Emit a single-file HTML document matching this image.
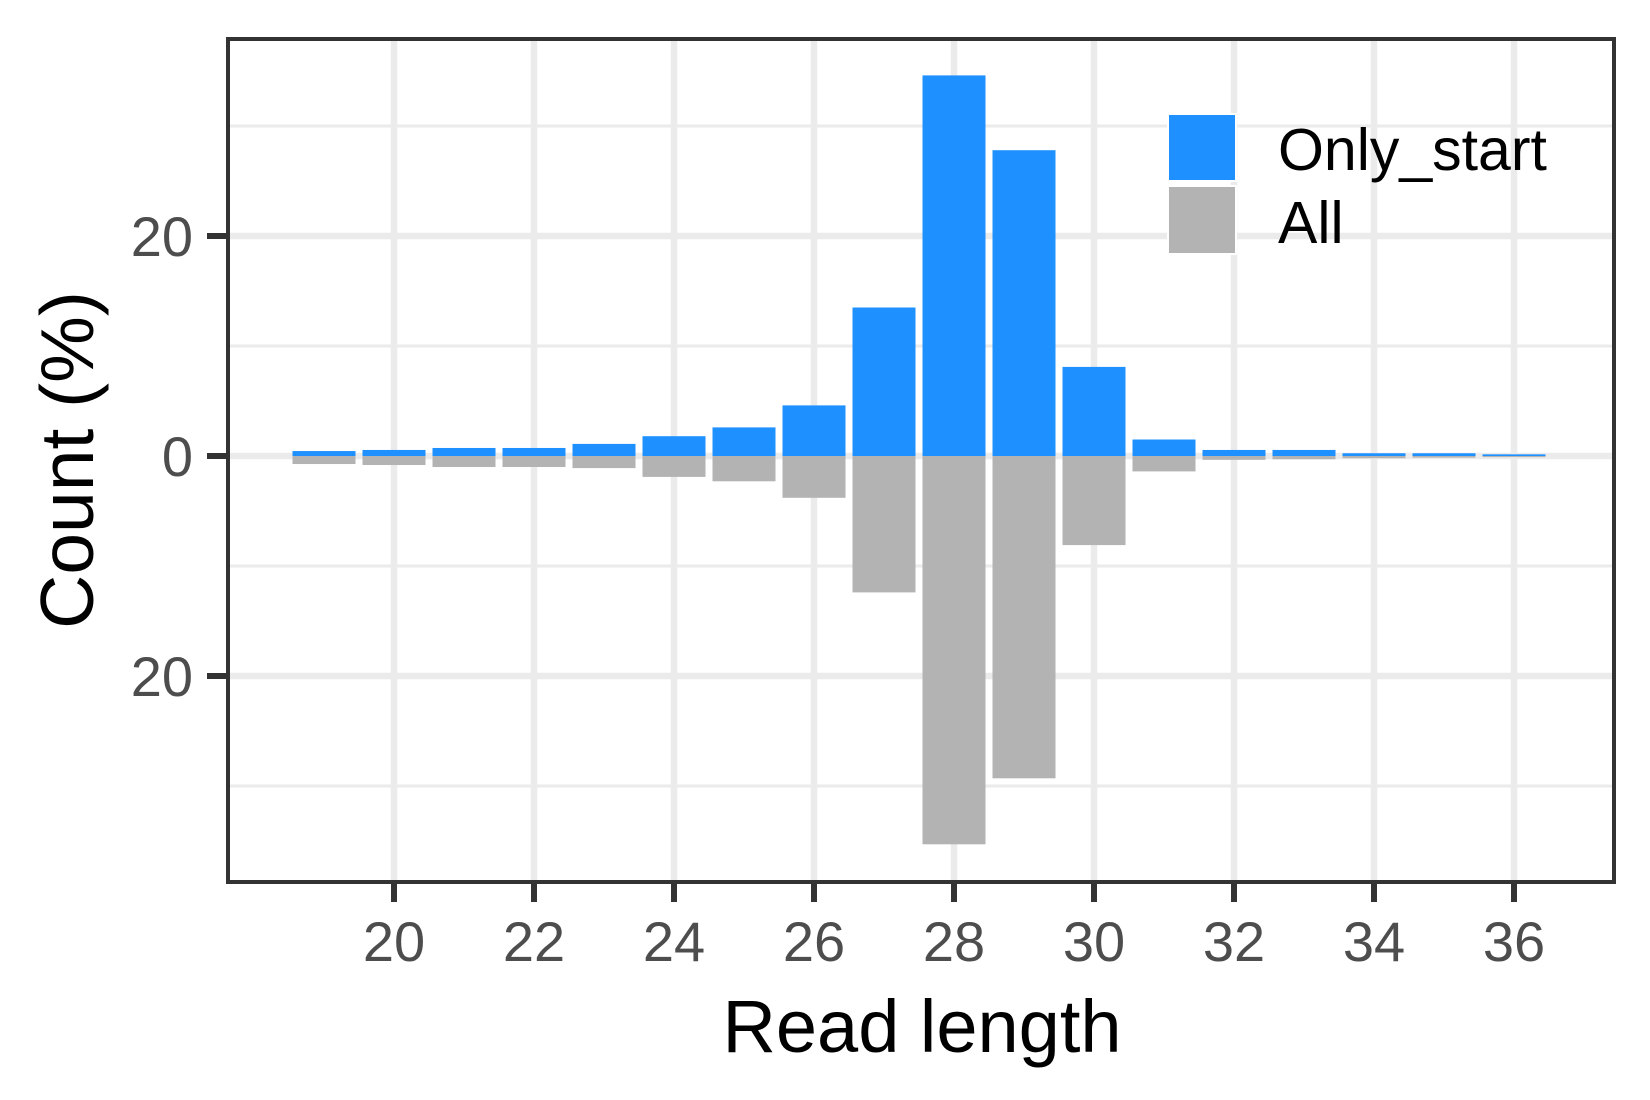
<!DOCTYPE html>
<html><head><meta charset="utf-8"><style>
html,body{margin:0;padding:0;background:#fff;}
svg{display:block;font-family:"Liberation Sans",Arial,sans-serif;}
</style></head><body>
<svg id="chart" width="1650" height="1100" viewBox="0 0 1650 1100">
<rect x="0" y="0" width="1650" height="1100" fill="#fff"/>
<g id="grid"></g>
<g id="bars"></g>
<g id="axes"></g>
<g>
<rect x="1167" y="113" width="70" height="69" fill="#fff"/>
<rect x="1169" y="115" width="66" height="65" fill="#1E90FF"/>
<rect x="1167" y="185" width="70" height="70" fill="#fff"/>
<rect x="1169" y="187" width="66" height="66" fill="#B3B3B3"/>
<text x="1278" y="170" font-size="59" fill="#000">Only_start</text>
<text x="1278" y="243" font-size="59" fill="#000">All</text>
</g>
<text x="922" y="1052" font-size="74" text-anchor="middle" fill="#000">Read length</text>
<text transform="translate(93,460) rotate(-90)" font-size="75" text-anchor="middle" fill="#000">Count (%)</text>
</svg>
<script>
const categories = [19,20,21,22,23,24,25,26,27,28,29,30,31,32,33,34,35,36];
const onlyStart = [0.45,0.55,0.73,0.73,1.1,1.8,2.6,4.6,13.5,34.6,27.8,8.1,1.5,0.55,0.55,0.25,0.25,0.15];
const allValues = [0.73,0.82,1.0,1.0,1.1,1.9,2.3,3.8,12.4,35.3,29.3,8.1,1.4,0.35,0.3,0.2,0.15,0.1];
const xTicks = [20,22,24,26,28,30,32,34,36];
const yTicks = [20,0,-20];
const yTickLabels = ["20","0","20"];
const yMinor = [30,10,-10,-30];

const NS="http://www.w3.org/2000/svg";
const PL=228,PR=1614,PT=39,PB=882;
function xs(v){return 394+(v-20)*70.0;}
function ys(v){return 456-v*11.0;}
function mk(tag,attrs,parent){const e=document.createElementNS(NS,tag);for(const k in attrs)e.setAttribute(k,attrs[k]);parent.appendChild(e);return e;}
const grid=document.getElementById('grid'),bars=document.getElementById('bars'),axes=document.getElementById('axes');
yMinor.forEach(v=>{const l=mk('line',{x1:PL,x2:PR,y1:ys(v),y2:ys(v),stroke:'#EBEBEB','stroke-width':3},grid);

});
yTicks.forEach(v=>{const l=mk('line',{x1:PL,x2:PR,y1:ys(v),y2:ys(v),stroke:'#EBEBEB','stroke-width':6.5},grid);

});
xTicks.forEach(v=>{const l=mk('line',{x1:xs(v),x2:xs(v),y1:PT,y2:PB,stroke:'#EBEBEB','stroke-width':6.5},grid);

});
const bw=63;
categories.forEach((c,i)=>{
 const h1=onlyStart[i]*11.0;
 const r1=mk('rect',{x:xs(c)-bw/2,y:ys(onlyStart[i]),width:bw,height:h1,fill:'#1E90FF'},bars);
 
 
 const h2=allValues[i]*11.0;
 const r2=mk('rect',{x:xs(c)-bw/2,y:ys(0),width:bw,height:h2,fill:'#B3B3B3'},bars);
 
 
});
const border=mk('rect',{x:PL,y:PT,width:PR-PL,height:PB-PT,fill:'none',stroke:'#333','stroke-width':4},axes);


xTicks.forEach(v=>{
 const t=mk('line',{x1:xs(v),x2:xs(v),y1:PB,y2:PB+20,stroke:'#333','stroke-width':6},axes);
 
 
 const l=mk('text',{x:xs(v),y:961,'font-size':56,'text-anchor':'middle',fill:'#4D4D4D'},axes);
 l.textContent=String(v);
 
 
});
yTicks.forEach((v,i)=>{
 const t=mk('line',{x1:PL-21,x2:PL,y1:ys(v),y2:ys(v),stroke:'#333','stroke-width':6},axes);
 
 
 const l=mk('text',{x:193,y:ys(v)+20,'font-size':56,'text-anchor':'end',fill:'#4D4D4D'},axes);
 l.textContent=yTickLabels[i];
 
 
});
</script>
</body></html>
